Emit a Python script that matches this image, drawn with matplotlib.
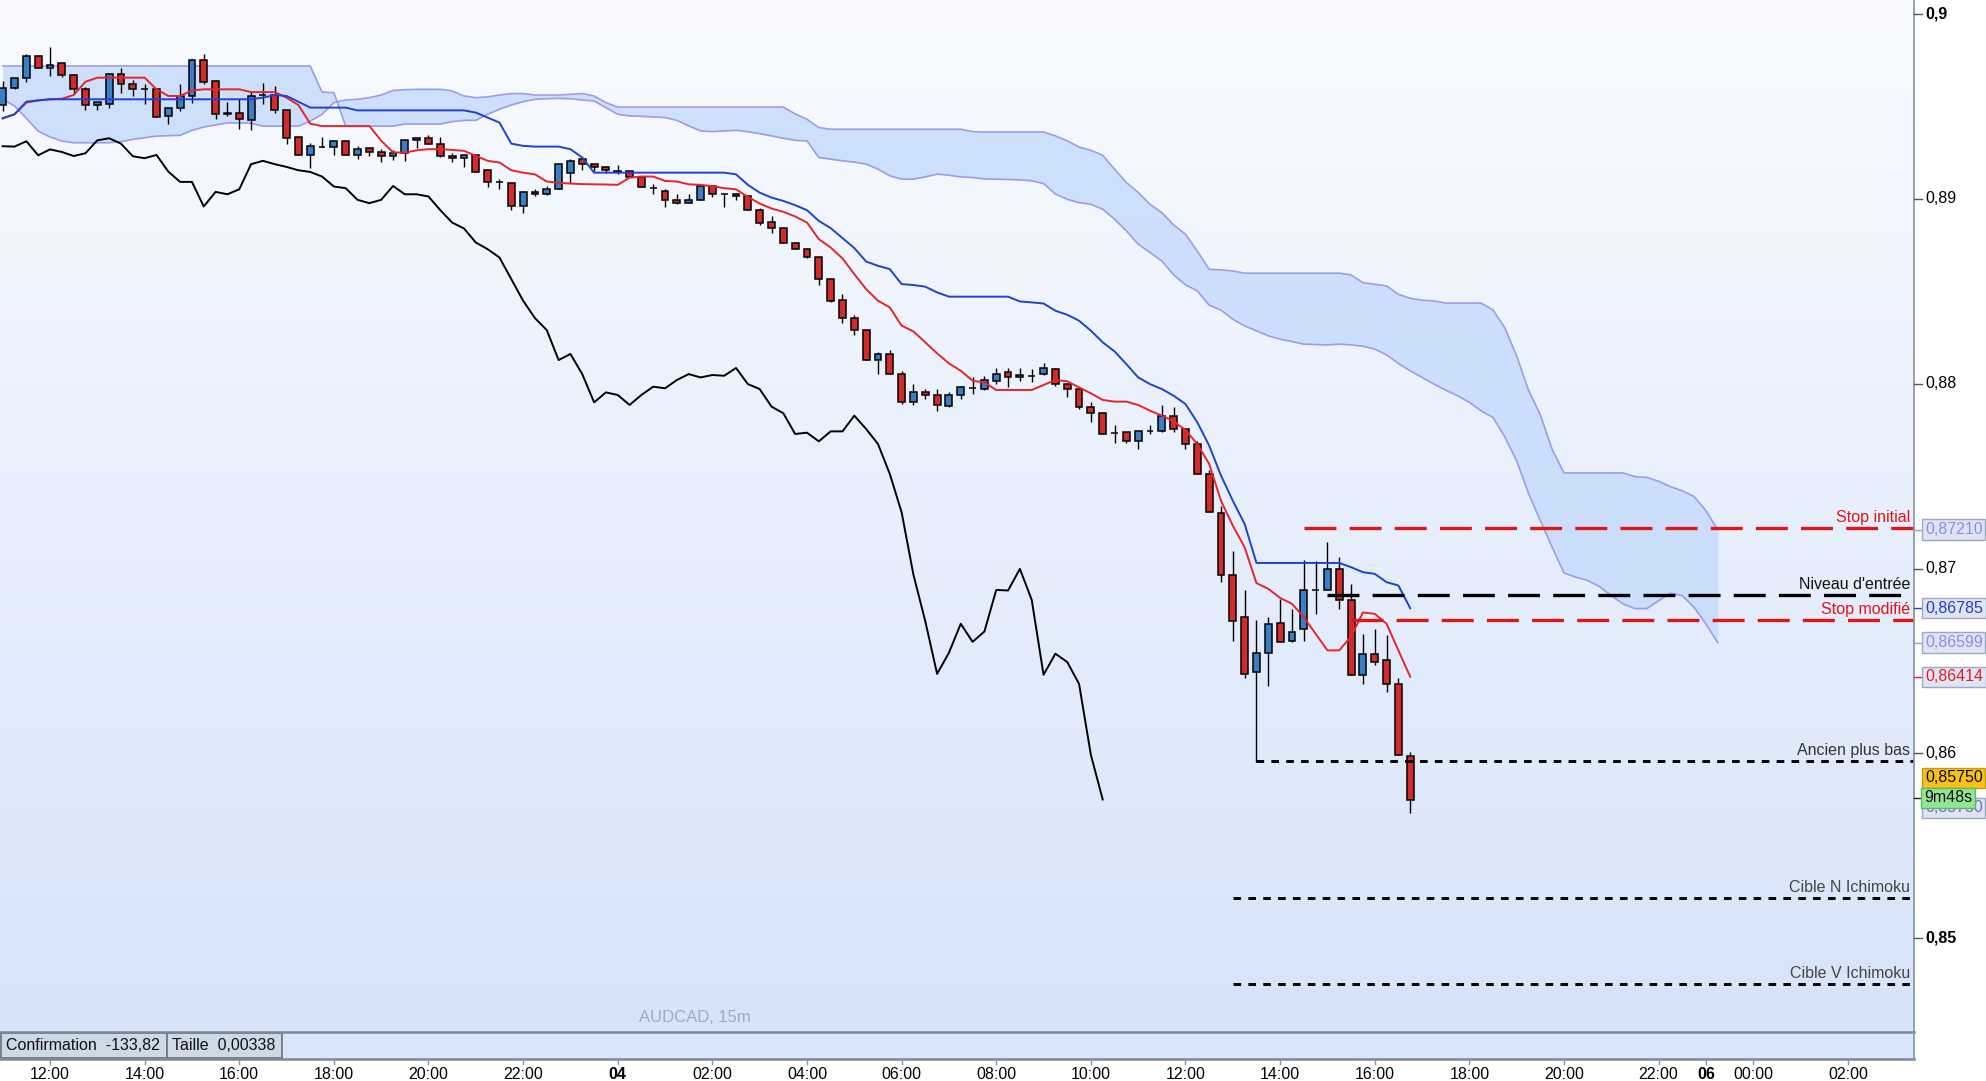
import numpy as np
import matplotlib
matplotlib.use("Agg")
import matplotlib.pyplot as plt
import matplotlib.transforms as mtrans
from matplotlib.patches import Rectangle
from matplotlib.lines import Line2D

plt.rcParams['font.family'] = ['Liberation Sans', 'DejaVu Sans']
plt.rcParams['lines.scale_dashes'] = False

# ---------------- DATA ----------------
first_bar = -4          # bar index of first candle (bar 0 = 12:00 on day 03, 15m bars)
opens = [0.89508,0.89602,0.89656,0.89771,0.89710,0.89733,0.89670,0.89593,0.89508,0.89512,
         0.89674,0.89620,0.89593,0.89593,0.89449,0.89490,0.89555,0.89749,0.89638,0.89465,
         0.89465,0.89425,0.89560,0.89560,0.89479,0.89335,0.89238,0.89283,0.89281,0.89312,
         0.89238,0.89277,0.89252,0.89232,0.89247,0.89317,0.89328,0.89299,0.89231,0.89220,
         0.89238,0.89155,0.89092,0.89085,0.88959,0.89038,0.89025,0.89052,0.89139,0.89215,
         0.89188,0.89173,0.89152,0.89152,0.89121,0.89058,0.89043,0.88995,0.88977,0.88993,
         0.89070,0.89025,0.89025,0.89016,0.88939,0.88874,0.88841,0.88764,0.88728,0.88683,
         0.88566,0.88452,0.88355,0.88290,0.88128,0.88161,0.88052,0.87899,0.87953,0.87939,
         0.87881,0.87939,0.87975,0.87971,0.88013,0.88061,0.88034,0.88043,0.88052,0.88079,
         0.87998,0.87971,0.87876,0.87840,0.87735,0.87737,0.87692,0.87742,0.87742,0.87827,
         0.87755,0.87674,0.87512,0.87301,0.86966,0.86740,0.86439,0.86544,0.86706,0.86607,
         0.86674,0.86881,0.86884,0.86998,0.86830,0.86425,0.86539,0.86506,0.86376,0.85985]
highs = [0.89638,0.89656,0.89785,0.89775,0.89822,0.89737,0.89677,0.89605,0.89524,0.89679,
         0.89706,0.89641,0.89623,0.89593,0.89490,0.89623,0.89755,0.89785,0.89641,0.89524,
         0.89542,0.89584,0.89629,0.89611,0.89479,0.89335,0.89304,0.89335,0.89312,0.89312,
         0.89286,0.89277,0.89272,0.89263,0.89317,0.89328,0.89346,0.89335,0.89251,0.89238,
         0.89238,0.89155,0.89106,0.89085,0.89043,0.89052,0.89070,0.89188,0.89215,0.89215,
         0.89188,0.89179,0.89184,0.89152,0.89124,0.89083,0.89052,0.89025,0.89025,0.89070,
         0.89070,0.89034,0.89034,0.89016,0.88953,0.88908,0.88841,0.88764,0.88737,0.88683,
         0.88566,0.88485,0.88373,0.88290,0.88170,0.88182,0.88070,0.87998,0.87971,0.87971,
         0.87953,0.87989,0.88034,0.88043,0.88085,0.88085,0.88085,0.88079,0.88110,0.88085,
         0.88000,0.87975,0.87903,0.87840,0.87779,0.87737,0.87742,0.87779,0.87886,0.87872,
         0.87755,0.87688,0.87533,0.87340,0.87097,0.86881,0.86724,0.86740,0.86836,0.86782,
         0.87047,0.87043,0.87146,0.87061,0.86917,0.86643,0.86674,0.86638,0.86409,0.86007]
lows =  [0.89476,0.89593,0.89634,0.89706,0.89665,0.89659,0.89575,0.89479,0.89479,0.89494,
         0.89575,0.89557,0.89512,0.89443,0.89407,0.89476,0.89521,0.89623,0.89430,0.89447,
         0.89376,0.89375,0.89515,0.89463,0.89299,0.89238,0.89166,0.89281,0.89236,0.89236,
         0.89214,0.89232,0.89200,0.89211,0.89206,0.89278,0.89296,0.89227,0.89202,0.89170,
         0.89148,0.89065,0.89052,0.88942,0.88926,0.89016,0.89022,0.89052,0.89088,0.89155,
         0.89152,0.89142,0.89133,0.89121,0.89067,0.89025,0.88957,0.88971,0.88977,0.88993,
         0.89011,0.88957,0.88993,0.88939,0.88860,0.88813,0.88759,0.88728,0.88680,0.88535,
         0.88440,0.88328,0.88265,0.88128,0.88052,0.88052,0.87890,0.87885,0.87917,0.87854,
         0.87872,0.87917,0.87944,0.87966,0.87998,0.87984,0.88016,0.88007,0.88047,0.87989,
         0.87930,0.87863,0.87791,0.87728,0.87678,0.87678,0.87647,0.87728,0.87737,0.87737,
         0.87647,0.87512,0.87304,0.86926,0.86607,0.86409,0.85953,0.86364,0.86603,0.86602,
         0.86607,0.86755,0.86884,0.86782,0.86425,0.86376,0.86476,0.86332,0.85992,0.85677]
closes = [0.89602,0.89656,0.89773,0.89706,0.89722,0.89668,0.89593,0.89508,0.89524,0.89674,
          0.89620,0.89593,0.89593,0.89443,0.89490,0.89555,0.89749,0.89634,0.89458,0.89458,
          0.89430,0.89555,0.89560,0.89479,0.89328,0.89238,0.89285,0.89283,0.89312,0.89236,
          0.89268,0.89254,0.89232,0.89247,0.89317,0.89328,0.89299,0.89231,0.89220,0.89238,
          0.89148,0.89092,0.89092,0.88959,0.89038,0.89025,0.89052,0.89188,0.89206,0.89188,
          0.89173,0.89155,0.89146,0.89121,0.89067,0.89058,0.88995,0.88977,0.88995,0.89070,
          0.89025,0.89025,0.89013,0.88939,0.88872,0.88840,0.88764,0.88728,0.88683,0.88566,
          0.88449,0.88355,0.88290,0.88128,0.88161,0.88052,0.87899,0.87953,0.87939,0.87885,
          0.87939,0.87984,0.87975,0.88020,0.88052,0.88034,0.88047,0.88043,0.88085,0.87998,
          0.87971,0.87876,0.87840,0.87728,0.87735,0.87688,0.87742,0.87742,0.87827,0.87755,
          0.87674,0.87512,0.87304,0.86966,0.86715,0.86430,0.86544,0.86701,0.86603,0.86659,
          0.86884,0.86881,0.86998,0.86830,0.86425,0.86539,0.86494,0.86376,0.85992,0.85750]

tenkan = [0.89436,0.89458,0.89521,0.89533,0.89539,0.89542,0.89562,0.89634,0.89656,0.89656,
          0.89656,0.89656,0.89656,0.89593,0.89557,0.89557,0.89587,0.89593,0.89593,0.89593,
          0.89593,0.89578,0.89578,0.89578,0.89548,0.89508,0.89407,0.89394,0.89394,0.89394,
          0.89394,0.89394,0.89315,0.89252,0.89250,0.89263,0.89269,0.89269,0.89265,0.89260,
          0.89233,0.89206,0.89197,0.89155,0.89142,0.89133,0.89094,0.89087,0.89083,0.89080,
          0.89079,0.89078,0.89076,0.89115,0.89121,0.89121,0.89097,0.89094,0.89079,0.89076,
          0.89069,0.89058,0.89052,0.89011,0.88975,0.88948,0.88930,0.88905,0.88872,0.88782,
          0.88737,0.88678,0.88593,0.88512,0.88449,0.88413,0.88314,0.88283,0.88224,0.88164,
          0.88110,0.88070,0.88016,0.88007,0.87966,0.87966,0.87966,0.87966,0.87993,0.88020,
          0.88013,0.87980,0.87948,0.87912,0.87903,0.87903,0.87885,0.87854,0.87827,0.87796,
          0.87749,0.87674,0.87566,0.87367,0.87232,0.87115,0.86921,0.86890,0.86841,0.86809,
          0.86737,0.86647,0.86557,0.86557,0.86632,0.86762,0.86755,0.86701,0.86557,0.86414]
kijun = [0.89436,0.89458,0.89526,0.89533,0.89539,0.89539,0.89539,0.89539,0.89539,0.89539,
         0.89539,0.89539,0.89539,0.89539,0.89539,0.89539,0.89539,0.89539,0.89539,0.89539,
         0.89539,0.89539,0.89548,0.89562,0.89557,0.89526,0.89494,0.89494,0.89494,0.89494,
         0.89479,0.89479,0.89479,0.89479,0.89479,0.89479,0.89479,0.89479,0.89479,0.89479,
         0.89467,0.89440,0.89413,0.89299,0.89287,0.89283,0.89283,0.89283,0.89269,0.89224,
         0.89142,0.89142,0.89142,0.89142,0.89142,0.89142,0.89142,0.89142,0.89142,0.89142,
         0.89142,0.89142,0.89133,0.89076,0.89034,0.89007,0.88989,0.88966,0.88939,0.88881,
         0.88842,0.88788,0.88734,0.88661,0.88638,0.88620,0.88539,0.88534,0.88525,0.88494,
         0.88471,0.88471,0.88471,0.88471,0.88471,0.88471,0.88445,0.88440,0.88434,0.88395,
         0.88373,0.88341,0.88287,0.88224,0.88175,0.88106,0.88034,0.87998,0.87971,0.87935,
         0.87890,0.87791,0.87665,0.87503,0.87367,0.87241,0.87030,0.87030,0.87030,0.87030,
         0.87030,0.87030,0.87030,0.87030,0.87007,0.86980,0.86971,0.86926,0.86908,0.86785]

# Kumo spans, drawn from bar -4 to bar 141 (already displaced 26 bars forward)
span_1 = [0.89719,0.89719,0.89719,0.89719,0.89719,0.89719,0.89719,0.89719,0.89719,0.89719,
          0.89719,0.89719,0.89719,0.89719,0.89719,0.89719,0.89719,0.89719,0.89719,0.89719,
          0.89719,0.89719,0.89719,0.89719,0.89719,0.89719,0.89719,0.89578,0.89575,0.89394,
          0.89394,0.89394,0.89394,0.89394,0.89405,0.89405,0.89405,0.89405,0.89418,0.89425,
          0.89425,0.89458,0.89485,0.89508,0.89526,0.89539,0.89542,0.89544,0.89542,0.89535,
          0.89530,0.89494,0.89458,0.89449,0.89447,0.89443,0.89440,0.89425,0.89395,0.89368,
          0.89364,0.89368,0.89371,0.89364,0.89353,0.89341,0.89328,0.89317,0.89314,0.89224,
          0.89215,0.89206,0.89199,0.89188,0.89161,0.89125,0.89107,0.89107,0.89119,0.89134,
          0.89128,0.89119,0.89116,0.89108,0.89107,0.89105,0.89103,0.89098,0.89083,0.89026,
          0.88998,0.88980,0.88971,0.88944,0.88890,0.88827,0.88755,0.88710,0.88664,0.88589,
          0.88535,0.88502,0.88425,0.88398,0.88349,0.88313,0.88286,0.88259,0.88241,0.88228,
          0.88214,0.88212,0.88210,0.88214,0.88210,0.88203,0.88187,0.88156,0.88109,0.88070,
          0.88034,0.87998,0.87965,0.87935,0.87899,0.87853,0.87817,0.87712,0.87583,0.87407,
          0.87259,0.87115,0.86976,0.86953,0.86935,0.86902,0.86853,0.86808,0.86783,0.86783,
          0.86826,0.86866,0.86853,0.86790,0.86700,0.86599]
span_2 = [0.89539,0.89503,0.89436,0.89367,0.89335,0.89313,0.89304,0.89304,0.89304,0.89304,
          0.89310,0.89322,0.89331,0.89340,0.89342,0.89344,0.89371,0.89389,0.89400,0.89411,
          0.89411,0.89409,0.89394,0.89394,0.89394,0.89394,0.89421,0.89458,0.89521,0.89535,
          0.89539,0.89548,0.89562,0.89587,0.89591,0.89593,0.89593,0.89593,0.89584,0.89557,
          0.89548,0.89552,0.89562,0.89570,0.89570,0.89562,0.89562,0.89562,0.89566,0.89570,
          0.89557,0.89521,0.89497,0.89497,0.89497,0.89497,0.89497,0.89497,0.89497,0.89497,
          0.89497,0.89497,0.89497,0.89497,0.89497,0.89497,0.89497,0.89460,0.89431,0.89386,
          0.89377,0.89377,0.89377,0.89377,0.89377,0.89377,0.89377,0.89377,0.89377,0.89377,
          0.89377,0.89377,0.89364,0.89362,0.89362,0.89362,0.89362,0.89362,0.89362,0.89341,
          0.89314,0.89281,0.89263,0.89236,0.89161,0.89089,0.89035,0.88971,0.88926,0.88859,
          0.88809,0.88718,0.88619,0.88616,0.88610,0.88598,0.88598,0.88598,0.88598,0.88598,
          0.88598,0.88598,0.88598,0.88598,0.88589,0.88547,0.88538,0.88529,0.88484,0.88462,
          0.88452,0.88448,0.88436,0.88436,0.88436,0.88436,0.88399,0.88302,0.88150,0.87965,
          0.87832,0.87645,0.87517,0.87517,0.87517,0.87517,0.87517,0.87517,0.87497,0.87493,
          0.87472,0.87443,0.87421,0.87389,0.87313,0.87210]
chikou_shift = 26

# horizontal trade levels
level_names  = ["Stop initial", "Niveau d'entrée", "Stop modifié", "Ancien plus bas",
                "Cible N Ichimoku", "Cible V Ichimoku"]
level_prices = [0.87220, 0.86855, 0.86722, 0.85956, 0.85216, 0.84750]
level_start  = [106, 108, 110, 102, 100, 100]

# axis labels
time_tick_pos = [0, 8, 16, 24, 32, 40, 48, 56, 64, 72, 80, 88, 96, 104, 112, 120, 128, 136, 140, 144, 152]
time_tick_labels = ["12:00", "14:00", "16:00", "18:00", "20:00", "22:00", "04", "02:00", "04:00",
                    "06:00", "08:00", "10:00", "12:00", "14:00", "16:00", "18:00", "20:00",
                    "22:00", "06", "00:00", "02:00"]
price_ticks = [0.90, 0.89, 0.88, 0.87, 0.86, 0.85]
price_tick_labels = ["0,9", "0,89", "0,88", "0,87", "0,86", "0,85"]

symbol_label = "AUDCAD, 15m"
info_fields = ["Confirmation  -133,82", "Taille  0,00338"]
timer_label = "9m48s"

# ---------------- LAYOUT ----------------
W, H = 1986, 1081
PLOT_R, PLOT_B, BAR_B = 1914, 1032, 1059
X0_PX, BAR_PX = 50.0, 11.828          # pixel of bar 0, pixels per bar
Y_REF, PX_PER_UNIT = 568.5, 18480.0   # pixel of 0.87, pixels per price unit

fig = plt.figure(figsize=(W / 100, H / 100), dpi=100)
fig.patch.set_facecolor('white')
ax = fig.add_axes([0, 1 - PLOT_B / H, PLOT_R / W, PLOT_B / H])
xl = -X0_PX / BAR_PX
xr = (PLOT_R - X0_PX) / BAR_PX
yt = 0.87 + Y_REF / PX_PER_UNIT
yb = 0.87 - (PLOT_B - Y_REF) / PX_PER_UNIT

# gradient background
grad = np.linspace(0, 1, 256)[:, None]
top_c = np.array([249, 251, 255]) / 255
bot_c = np.array([214, 227, 249]) / 255
img = top_c[None, None, :] * (1 - grad[:, :, None]) + bot_c[None, None, :] * grad[:, :, None]
ax.imshow(img, extent=[xl, xr, yb, yt], aspect='auto', origin='upper', zorder=0)

n = len(closes)
bars = np.arange(first_bar, first_bar + n)
o = np.array(opens); h = np.array(highs); l = np.array(lows); c = np.array(closes)

# kumo
kx = np.arange(first_bar, first_bar + len(span_1))
s1 = np.array(span_1); s2 = np.array(span_2)
ax.fill_between(kx, s1, s2, color='#c6dbfb', alpha=0.85, lw=0, zorder=1)
ax.plot(kx, s1, color='#9c9ce8', lw=1.2, zorder=1.5)
ax.plot(kx, s2, color='#9c9ce8', lw=1.2, zorder=1.5)

# chikou
ax.plot(bars[:-chikou_shift], c[chikou_shift:], color='black', lw=1.4, zorder=2)

# candles
up = c >= o
ax.vlines(bars, l, h, color='black', lw=1.0, zorder=3)
body_lo = np.minimum(o, c); body_h = np.abs(c - o)
ax.bar(bars[up], body_h[up], 0.58, bottom=body_lo[up], color='#3a7ec6', edgecolor='black', lw=1.1, zorder=4)
ax.bar(bars[~up], body_h[~up], 0.58, bottom=body_lo[~up], color='#d22b2b', edgecolor='black', lw=1.1, zorder=4)

# tenkan / kijun
ax.plot(bars, tenkan, color='#e8242a', lw=1.4, zorder=5)
ax.plot(bars, kijun, color='#1f42cf', lw=1.4, zorder=5)

# level lines
long_dash = (0, (23, 9.5))
short_dash = (0, (5.5, 5.2))
lvl_colors = ['#e01515', 'black', '#e01515', 'black', 'black', 'black']
lvl_styles = [long_dash, long_dash, long_dash, short_dash, short_dash, short_dash]
lvl_lw = [2.4, 2.4, 2.4, 2.1, 2.1, 2.1]
txt_colors = ['#e01515', '#111111', '#e01515', '#333333', '#444444', '#444444']
txt_trans = mtrans.offset_copy(mtrans.blended_transform_factory(ax.transAxes, ax.transData),
                               fig=fig, x=-4, y=6, units='dots')
for name, p, s, col, ls, lw, tc in zip(level_names, level_prices, level_start, lvl_colors,
                                       lvl_styles, lvl_lw, txt_colors):
    ax.plot([s, xr], [p, p], color=col, lw=lw, linestyle=ls, zorder=6, solid_capstyle='butt',
            dash_capstyle='butt')
    ax.text(1.0, p, name, transform=txt_trans, ha='right', va='baseline', fontsize=11.5,
            color=tc, zorder=7)

ax.text(695 / PLOT_R, 14 / PLOT_B, symbol_label, transform=ax.transAxes, ha='center',
        va='center', fontsize=12, color='#a2abba', zorder=7)

ax.set_xlim(xl, xr)
ax.set_ylim(yb, yt)
ax.axis('off')

# ---------------- info bar ----------------
bh = BAR_B - PLOT_B
bax = fig.add_axes([0, 1 - BAR_B / H, PLOT_R / W, bh / H])
bax.set_xlim(0, PLOT_R); bax.set_ylim(0, bh)
bax.set_facecolor('#d9e5f8')
bax.set_xticks([]); bax.set_yticks([])
for sp in ['left', 'right']:
    bax.spines[sp].set_visible(False)
for sp in ['top', 'bottom']:
    bax.spines[sp].set_color('#7b8996'); bax.spines[sp].set_linewidth(1.8)
bx = 0.5
widths = [166.5, 115]
for fld, wd in zip(info_fields, widths):
    bax.add_patch(Rectangle((bx, 1.0), wd, bh - 2.0, fc='#cdd9e3', ec='#6a7a8a', lw=1.3))
    bax.text(bx + 5, bh / 2, fld, ha='left', va='center', fontsize=11.5, color='#111111')
    bx += wd

# ---------------- right price axis ----------------
fig.add_artist(Line2D([PLOT_R / W, PLOT_R / W], [1 - BAR_B / H, 1], transform=fig.transFigure,
                      color='#8592a0', lw=1.2))
rtrans = mtrans.blended_transform_factory(fig.transFigure, ax.transData)

for p, lab in zip(price_ticks, price_tick_labels):
    bold = lab in ("0,9", "0,85")
    fig.add_artist(Line2D([PLOT_R / W, (PLOT_R + 8) / W], [p, p], transform=rtrans,
                          color='#555555', lw=1.0))
    fig.text(1925 / W, p, lab, transform=rtrans, ha='left', va='center', fontsize=11.5,
             fontweight='bold' if bold else 'normal', color='black')

def boxed(p_or_y, text, tcol, fc, ec, tickcol=None, use_px=False, x=1925):
    if use_px:
        trans = fig.transFigure
        yy = 1 - p_or_y / H
    else:
        trans = rtrans
        yy = p_or_y
    if tickcol is not None:
        fig.add_artist(Line2D([PLOT_R / W, (PLOT_R + 8) / W], [yy, yy], transform=trans,
                              color=tickcol, lw=1.0))
    fig.text(x / W, yy, text, transform=trans, ha='left', va='center', fontsize=11.5, color=tcol,
             bbox=dict(boxstyle='square,pad=0.17', fc=fc, ec=ec, lw=1.0))

last_close = closes[-1]
kumo_last_1 = span_1[-1]; kumo_last_2 = span_2[-1]
fmt = lambda v: ("%.5f" % v).replace('.', ',')
boxed(kumo_last_2, fmt(kumo_last_2), '#8b8ee2', '#dfe4f5', '#9fa8c2', '#9aa0c0')
boxed(kijun[-1], fmt(kijun[-1]), '#2040d0', '#dfe4f5', '#9fa8c2', '#2040d0')
boxed(kumo_last_1, fmt(kumo_last_1), '#8b8ee2', '#dfe4f5', '#9fa8c2', '#9aa0c0')
boxed(tenkan[-1], fmt(tenkan[-1]), '#e02020', '#dfe4f5', '#9fa8c2', '#e02020')
boxed(808, fmt(last_close), '#6870b8', '#dfe4f5', '#9fa8c2', None, use_px=True)
boxed(778, fmt(last_close), '#111111', '#f6c21a', '#c99a10', None, use_px=True)
boxed(798, timer_label, '#111111', '#93e593', '#62b862', '#222222', use_px=True, x=1924)

# ---------------- time axis ----------------
ttrans = mtrans.blended_transform_factory(ax.transData, fig.transFigure)
for pos, lab in zip(time_tick_pos, time_tick_labels):
    fig.add_artist(Line2D([pos, pos], [1 - BAR_B / H, 1 - (BAR_B + 5) / H], transform=ttrans,
                          color='#8592a0', lw=1.0))
    bold = lab in ("04", "06")
    fig.text(pos, 1 - 1074.5 / H, lab, transform=ttrans, ha='center', va='center', fontsize=11.5,
             fontweight='bold' if bold else 'normal', color='black')

fig.savefig('out.png', dpi=100)
